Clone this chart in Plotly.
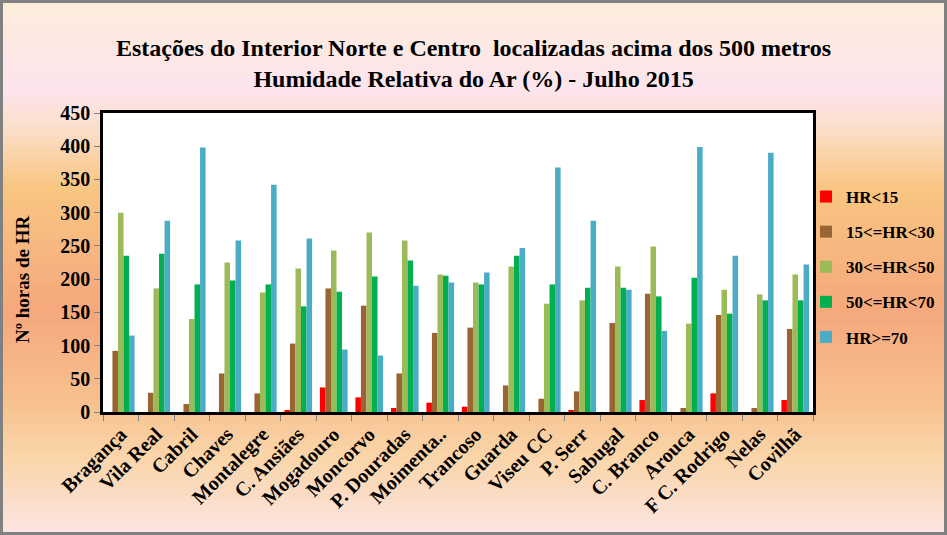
import plotly.graph_objects as go

stations = ["Bragança", "Vila Real", "Cabril", "Chaves", "Montalegre", "C. Ansiães",
            "Mogadouro", "Moncorvo", "P. Douradas", "Moimenta..", "Trancoso", "Guarda",
            "Viseu CC", "P. Serr", "Sabugal", "C. Branco", "Arouca", "F C. Rodrigo",
            "Nelas", "Covilhã"]

hr_lt15 = [0, 0, 0, 0, 0, 3, 37, 22, 6, 14, 8, 0, 0, 3, 0, 18, 0, 28, 0, 18]
hr_15_30 = [92, 29, 12, 58, 28, 103, 186, 160, 58, 119, 127, 40, 20, 31, 134, 178, 6, 146, 6, 125]
hr_30_50 = [300, 186, 140, 225, 180, 216, 243, 270, 258, 207, 195, 219, 163, 168, 219, 249, 133, 184, 177, 207]
hr_50_70 = [235, 238, 192, 198, 192, 159, 181, 204, 228, 205, 192, 235, 192, 187, 187, 174, 202, 148, 168, 168]
hr_ge70 = [115, 288, 398, 258, 342, 261, 94, 85, 190, 195, 210, 247, 368, 288, 184, 122, 399, 235, 390, 222]

series_names = ["HR&lt;15", "15&lt;=HR&lt;30", "30&lt;=HR&lt;50", "50&lt;=HR&lt;70", "HR&gt;=70"]
series_values = [hr_lt15, hr_15_30, hr_30_50, hr_50_70, hr_ge70]
series_colors = ["#FF0000", "#996633", "#9BBB59", "#00B050", "#4BACC6"]

y_ticks = [0, 50, 100, 150, 200, 250, 300, 350, 400, 450]

W, H = 947, 535
L, R, T, B = 103, 134, 113, 123
pw, ph = W - L - R, H - T - B

def px_x(px):
    return (px - L) / pw

def px_y(py):
    return (H - B - py) / ph

serif = "Liberation Serif, Times New Roman, serif"

fig = go.Figure()
for name, vals, col in zip(series_names, series_values, series_colors):
    fig.add_trace(go.Bar(x=stations, y=vals, name=name, marker_color=col,
                         marker_line_width=0, legendgroup=name))

# background gradient
stops = [(0, (252, 237, 218)), (90, (252, 228, 236)), (130, (251, 222, 200)),
         (187, (249, 198, 130)), (310, (245, 168, 124)), (400, (248, 192, 142)),
         (460, (250, 214, 170)), (535, (252, 228, 228))]

def col_at(y):
    for (y0, c0), (y1, c1) in zip(stops[:-1], stops[1:]):
        if y0 <= y <= y1:
            t = (y - y0) / (y1 - y0) if y1 > y0 else 0
            return "rgb(%d,%d,%d)" % tuple(round(a + (b - a) * t) for a, b in zip(c0, c1))
    return "rgb(%d,%d,%d)" % stops[-1][1]

shapes = []
step = 5
for y in range(0, H, step):
    shapes.append(dict(type="rect", xref="paper", yref="paper", layer="below",
                       x0=px_x(0), x1=px_x(W), y0=px_y(y + step + 0.5), y1=px_y(y),
                       fillcolor=col_at(y + step / 2), line_width=0))
shapes.append(dict(type="rect", xref="paper", yref="paper", layer="below",
                   x0=0, x1=1, y0=0, y1=1, fillcolor="white", line_width=0))
# outer frame
shapes.append(dict(type="rect", xref="paper", yref="paper", layer="above",
                   x0=px_x(1.5), x1=px_x(W - 1.5), y0=px_y(H - 1.5), y1=px_y(1.5),
                   line=dict(color="#808080", width=3)))

fig.update_layout(
    width=W, height=H,
    margin=dict(l=L, r=R, t=T, b=B, pad=0, autoexpand=False),
    paper_bgcolor="#FBD9B0",
    plot_bgcolor="white",
    barmode="group", bargap=0.22, bargroupgap=0,
    shapes=shapes,
    title=dict(text="Estações do Interior Norte e Centro  localizadas acima dos 500 metros<br>Humidade Relativa do Ar (%) - Julho 2015",
               x=0.5, xanchor="center", y=1 - 56 / H, yanchor="middle",
               font=dict(family=serif, size=24, color="black", weight="bold")),
    font=dict(family=serif, color="black"),
    legend=dict(x=px_x(806), y=px_y(179), xanchor="left", yanchor="top",
                bgcolor="rgba(0,0,0,0)", font=dict(family=serif, size=17, weight="bold"),
                tracegroupgap=10, itemwidth=30, traceorder="grouped"),
    showlegend=True,
    annotations=[dict(text="Nº horas de HR", xref="paper", yref="paper",
                      x=px_x(22), y=px_y(280), xanchor="center", yanchor="middle",
                      textangle=-90, showarrow=False,
                      font=dict(family=serif, size=19, weight="bold", color="black"))],
)

fig.update_xaxes(type="category", showline=True, linecolor="black", linewidth=2.5, mirror=True,
                 ticks="outside", tickson="boundaries", ticklen=6, tickcolor="#808080",
                 tickangle=-45, tickfont=dict(family=serif, size=20, weight="bold"),
                 showgrid=False)
fig.update_yaxes(range=[0, 450], tickvals=y_ticks, showline=True, linecolor="black", linewidth=2.5,
                 mirror=True, ticks="outside", ticklen=6, tickcolor="#808080",
                 tickfont=dict(family=serif, size=20, weight="bold"), showgrid=False, zeroline=False)

fig.write_html("out.html", config={"displayModeBar": False},
               post_script="document.body.style.margin='0';document.body.style.padding='0';")
